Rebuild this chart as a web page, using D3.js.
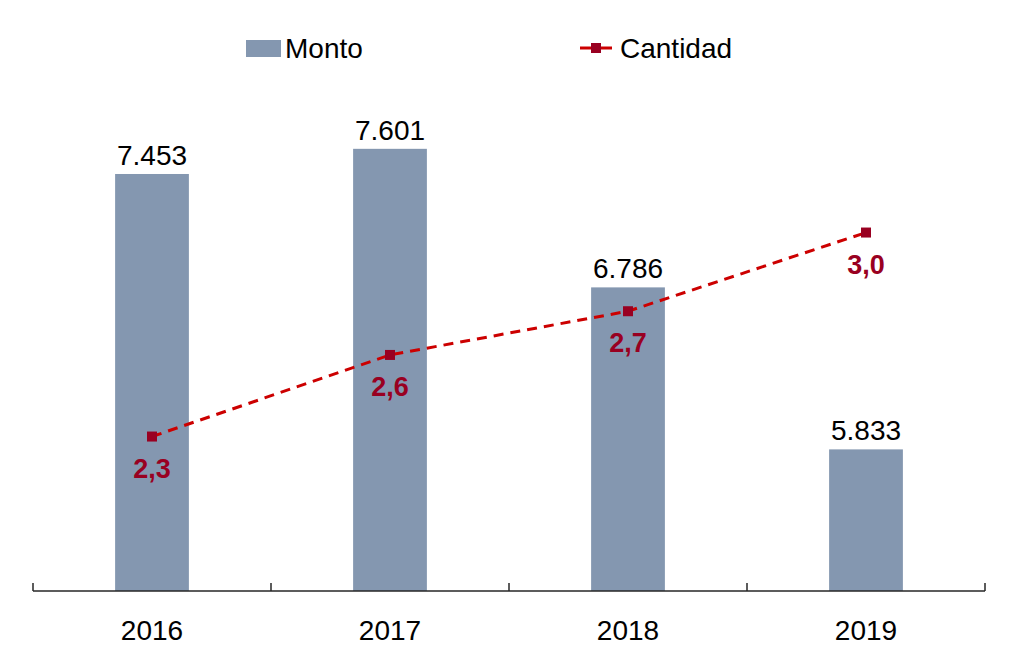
<!DOCTYPE html>
<html>
<head>
<meta charset="utf-8">
<script src="https://cdnjs.cloudflare.com/ajax/libs/d3/7.8.5/d3.min.js"></script>
<style>
  body { margin: 0; background: #fff; }
  text { font-family: "Liberation Sans", Arial, sans-serif; }
</style>
</head>
<body>
<svg id="chart"></svg>
<script>
const years = ["2016", "2017", "2018", "2019"];
const monto = [7453, 7601, 6786, 5833];
const cantidad = [2.28, 2.56, 2.71, 2.98];
const seriesNames = ["Monto", "Cantidad"];

const width = 1018, height = 667;
const margin = { top: 81, right: 33, bottom: 76, left: 33 };
const barColor = "#8497b0";
const lineColor = "#cc0000";
const markColor = "#990021";

const svg = d3.select("#chart").attr("width", width).attr("height", height);

// x band scale, bars take roughly a third of each band
const x = d3.scaleBand()
  .domain(years)
  .range([margin.left, width - margin.right])
  .paddingInner(0.69)
  .paddingOuter(0.345);

const xBand = d3.scaleBand()
  .domain(years)
  .range([margin.left, width - margin.right]);

// primary axis (bars) does not start at zero
const y = d3.scaleLinear()
  .domain([5000, 8000])
  .range([height - margin.bottom, margin.top]);

// secondary axis for the line
const y2 = d3.scaleLinear()
  .domain([1.75, 3.5])
  .range([height - margin.bottom, margin.top]);

// bars
svg.selectAll(".bar")
  .data(years)
  .enter()
  .append("rect")
  .attr("class", "bar")
  .attr("x", d => x(d))
  .attr("y", (d, i) => y(monto[i]))
  .attr("width", x.bandwidth())
  .attr("height", (d, i) => y.range()[0] - y(monto[i]))
  .attr("fill", barColor);

// bar value labels
svg.selectAll(".bar-label")
  .data(years)
  .enter()
  .append("text")
  .attr("x", d => x(d) + x.bandwidth() / 2)
  .attr("y", (d, i) => y(monto[i]) - 9)
  .attr("text-anchor", "middle")
  .style("font-size", "28px")
  .attr("fill", "#000")
  .text((d, i) => d3.format(",")(monto[i]).replace(/,/g, "."));

// x axis with ticks pointing up at band edges
const axisY = height - margin.bottom;
const axis = svg.append("g");
axis.append("line")
  .attr("x1", margin.left).attr("x2", width - margin.right)
  .attr("y1", axisY).attr("y2", axisY)
  .attr("stroke", "#262626").attr("stroke-width", 1.5);
const edges = years.map(d => xBand(d)).concat([xBand.range()[1]]);
axis.selectAll(".tick")
  .data(edges)
  .enter()
  .append("line")
  .attr("x1", d => d).attr("x2", d => d)
  .attr("y1", axisY).attr("y2", axisY - 8)
  .attr("stroke", "#262626").attr("stroke-width", 1.5);
axis.selectAll(".year")
  .data(years)
  .enter()
  .append("text")
  .attr("x", d => xBand(d) + xBand.bandwidth() / 2)
  .attr("y", axisY + 49)
  .attr("text-anchor", "middle")
  .style("font-size", "28px")
  .attr("fill", "#000")
  .text(d => d);

// dashed line
const cx = d => x(d) + x.bandwidth() / 2;
const line = d3.line()
  .x((d, i) => cx(years[i]))
  .y(d => y2(d));

svg.append("path")
  .datum(cantidad)
  .attr("d", line)
  .attr("fill", "none")
  .attr("stroke", lineColor)
  .attr("stroke-width", 3)
  .attr("stroke-dasharray", "10,7");

svg.selectAll(".mark")
  .data(cantidad)
  .enter()
  .append("rect")
  .attr("x", (d, i) => cx(years[i]) - 5)
  .attr("y", d => y2(d) - 5)
  .attr("width", 10)
  .attr("height", 10)
  .attr("fill", markColor);

svg.selectAll(".line-label")
  .data(cantidad)
  .enter()
  .append("text")
  .attr("x", (d, i) => cx(years[i]))
  .attr("y", d => y2(d) + 41)
  .attr("text-anchor", "middle")
  .style("font-size", "27px")
  .style("font-weight", "bold")
  .attr("fill", markColor)
  .text(d => d.toFixed(1).replace(".", ","));

// legend
const legend = svg.append("g");
legend.append("rect")
  .attr("x", 246).attr("y", 40)
  .attr("width", 35).attr("height", 17)
  .attr("fill", barColor);
legend.append("text")
  .attr("x", 285).attr("y", 58)
  .style("font-size", "28px")
  .text(seriesNames[0]);

legend.append("line")
  .attr("x1", 580).attr("x2", 612)
  .attr("y1", 48).attr("y2", 48)
  .attr("stroke", lineColor).attr("stroke-width", 3);
legend.append("rect")
  .attr("x", 591).attr("y", 43)
  .attr("width", 10).attr("height", 10)
  .attr("fill", markColor);
legend.append("text")
  .attr("x", 620).attr("y", 58)
  .style("font-size", "28px")
  .text(seriesNames[1]);
</script>
</body>
</html>
